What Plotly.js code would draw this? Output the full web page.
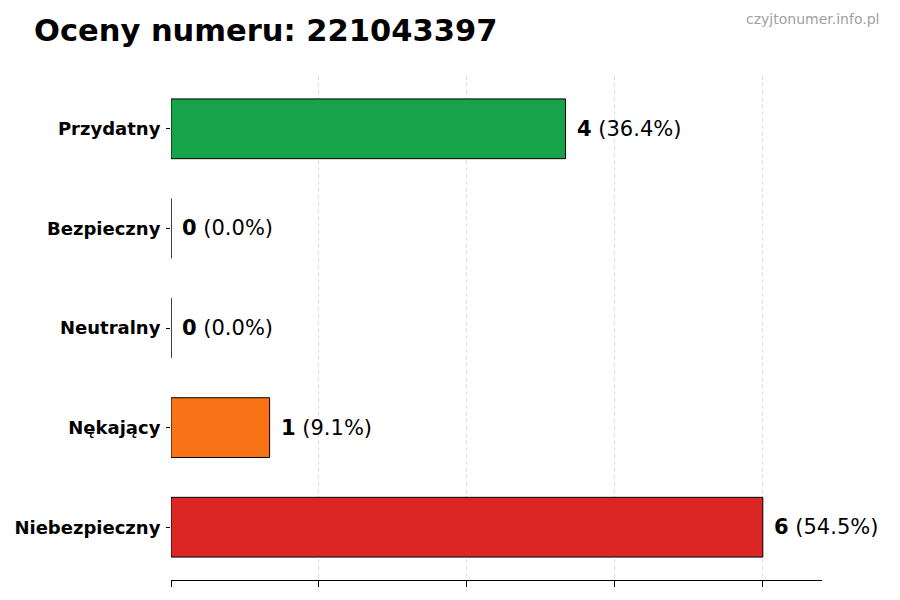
<!DOCTYPE html>
<html>
<head>
<meta charset="utf-8">
<script src="https://cdn.plot.ly/plotly-3.0.1.min.js"></script>
<style>
  html, body { margin: 0; padding: 0; background: #fff; }
  #chart { width: 900px; height: 600px; }
</style>
</head>
<body>
<div id="chart"></div>
<script>
var categories = ['Przydatny', 'Bezpieczny', 'Neutralny', 'Nękający', 'Niebezpieczny'];
var counts = [4, 0, 0, 1, 6];
var percents = ['36.4%', '0.0%', '0.0%', '9.1%', '54.5%'];
var colors = ['#16a34a', '#16a34a', '#9ca3af', '#f97316', '#dc2626'];

var font = 'DejaVu Sans, sans-serif';

var annotations = [];
for (var i = 0; i < categories.length; i++) {
  annotations.push({
    x: counts[i], y: categories[i], xref: 'x', yref: 'y',
    text: '<b>' + counts[i] + '</b> (' + percents[i] + ')',
    showarrow: false, xanchor: 'left', xshift: 9,
    font: {family: font, size: 21, color: '#000'}
  });
}
// watermark in top right corner of the figure
annotations.push({
  xref: 'paper', yref: 'paper', x: (881 - 171) / 651, y: (580 - 9) / 504,
  xanchor: 'right', yanchor: 'top',
  text: 'czyjtonumer.info.pl', showarrow: false,
  font: {family: font, size: 14, color: '#a0a0a0'}
});

var trace = {
  type: 'bar',
  orientation: 'h',
  x: counts,
  y: categories,
  width: 0.6,
  marker: {color: colors, line: {color: '#000', width: 1}},
  hoverinfo: 'none'
};

var layout = {
  width: 900, height: 600,
  margin: {l: 171, r: 78, t: 76, b: 20},
  paper_bgcolor: '#fff', plot_bgcolor: '#fff',
  title: {
    text: '<b>Oceny numeru: 221043397</b>',
    x: 34 / 900, xanchor: 'left', y: 0.95, yanchor: 'middle',
    font: {family: font, size: 30.5, color: '#000'}
  },
  xaxis: {
    range: [0, 6.6],
    tickvals: [0, 1.5, 3, 4.5, 6],
    showticklabels: false,
    ticks: 'outside', ticklen: 6, tickcolor: '#000',
    showline: true, linecolor: '#000', linewidth: 1,
    showgrid: true, gridcolor: '#dcdcdc', griddash: '4px,3px', gridwidth: 1,
    zeroline: false, fixedrange: true
  },
  yaxis: {
    type: 'category',
    range: [4.53, -0.53],
    ticks: 'outside', ticklen: 4, tickcolor: '#000',
    showline: false, showgrid: false, zeroline: false,
    tickfont: {family: font, size: 18, color: '#000', weight: 'bold'},
    ticklabelstandoff: 2,
    fixedrange: true
  },
  annotations: annotations,
  showlegend: false,
  font: {family: font}
};

Plotly.newPlot('chart', [trace], layout, {displayModeBar: false, staticPlot: true});
</script>
</body>
</html>
